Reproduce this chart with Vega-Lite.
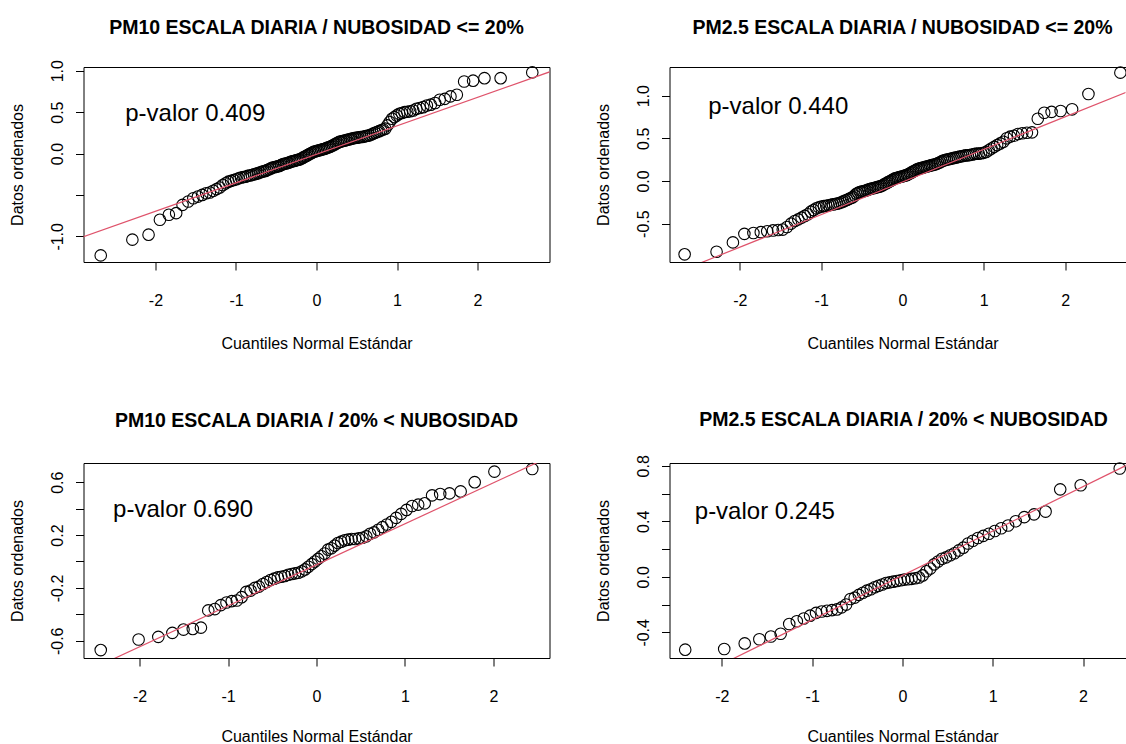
{
  "$schema": "https://vega.github.io/schema/vega-lite/v6.json",
  "background": "white",
  "padding": {"left": 8.5, "top": 17, "right": 0, "bottom": 0},
  "columns": 2,
  "spacing": {"row": 201, "column": 120},
  "bounds": "flush",
  "datasets": {
    "d1": [
      {"x":-2.68,"y":-1.23},{"x":-2.287,"y":-1.04},{"x":-2.086,"y":-0.98},{"x":-1.945,"y":-0.8},{"x":-1.834,"y":-0.74},{"x":-1.743,"y":-0.72},{"x":-1.664,"y":-0.62},{"x":-1.593,"y":-0.58},{"x":-1.53,"y":-0.54},{"x":-1.473,"y":-0.52},
      {"x":-1.42,"y":-0.5},{"x":-1.371,"y":-0.48},{"x":-1.325,"y":-0.47},{"x":-1.282,"y":-0.45},{"x":-1.241,"y":-0.43},{"x":-1.202,"y":-0.41},{"x":-1.164,"y":-0.38},{"x":-1.128,"y":-0.36},{"x":-1.094,"y":-0.34},{"x":-1.06,"y":-0.33},
      {"x":-1.028,"y":-0.32},{"x":-0.997,"y":-0.31},{"x":-0.967,"y":-0.3},{"x":-0.938,"y":-0.29},{"x":-0.909,"y":-0.285},{"x":-0.881,"y":-0.28},{"x":-0.855,"y":-0.27},{"x":-0.828,"y":-0.265},{"x":-0.803,"y":-0.26},{"x":-0.777,"y":-0.25},
      {"x":-0.752,"y":-0.245},{"x":-0.728,"y":-0.24},{"x":-0.704,"y":-0.23},{"x":-0.68,"y":-0.22},{"x":-0.657,"y":-0.215},{"x":-0.634,"y":-0.21},{"x":-0.612,"y":-0.2},{"x":-0.589,"y":-0.19},{"x":-0.567,"y":-0.18},{"x":-0.546,"y":-0.17},
      {"x":-0.524,"y":-0.165},{"x":-0.503,"y":-0.16},{"x":-0.482,"y":-0.155},{"x":-0.462,"y":-0.15},{"x":-0.441,"y":-0.14},{"x":-0.421,"y":-0.13},{"x":-0.401,"y":-0.125},{"x":-0.38,"y":-0.12},{"x":-0.36,"y":-0.115},{"x":-0.341,"y":-0.11},
      {"x":-0.321,"y":-0.1},{"x":-0.301,"y":-0.095},{"x":-0.282,"y":-0.09},{"x":-0.263,"y":-0.085},{"x":-0.244,"y":-0.08},{"x":-0.225,"y":-0.075},{"x":-0.206,"y":-0.07},{"x":-0.187,"y":-0.06},{"x":-0.168,"y":-0.05},{"x":-0.149,"y":-0.04},
      {"x":-0.13,"y":-0.03},{"x":-0.112,"y":-0.02},{"x":-0.093,"y":-0.01},{"x":-0.074,"y":0.0},{"x":-0.056,"y":0.01},{"x":-0.037,"y":0.02},{"x":-0.019,"y":0.025},{"x":0,"y":0.03},
      {"x":0.019,"y":0.035},{"x":0.037,"y":0.04},{"x":0.056,"y":0.045},{"x":0.074,"y":0.05},{"x":0.093,"y":0.055},{"x":0.112,"y":0.06},{"x":0.13,"y":0.07},{"x":0.149,"y":0.075},{"x":0.168,"y":0.08},{"x":0.187,"y":0.09},
      {"x":0.206,"y":0.1},{"x":0.225,"y":0.11},{"x":0.244,"y":0.12},{"x":0.263,"y":0.13},{"x":0.282,"y":0.14},{"x":0.301,"y":0.145},{"x":0.321,"y":0.15},{"x":0.341,"y":0.155},{"x":0.36,"y":0.16},{"x":0.38,"y":0.165},
      {"x":0.401,"y":0.17},{"x":0.421,"y":0.175},{"x":0.441,"y":0.18},{"x":0.462,"y":0.185},{"x":0.482,"y":0.19},{"x":0.503,"y":0.19},{"x":0.524,"y":0.195},{"x":0.546,"y":0.2},{"x":0.567,"y":0.2},{"x":0.589,"y":0.205},
      {"x":0.612,"y":0.21},{"x":0.634,"y":0.215},{"x":0.657,"y":0.22},{"x":0.68,"y":0.23},{"x":0.704,"y":0.24},{"x":0.728,"y":0.25},{"x":0.752,"y":0.26},{"x":0.777,"y":0.27},{"x":0.803,"y":0.28},{"x":0.828,"y":0.29},
      {"x":0.855,"y":0.3},{"x":0.881,"y":0.34},{"x":0.909,"y":0.38},{"x":0.938,"y":0.42},{"x":0.967,"y":0.44},{"x":0.997,"y":0.46},{"x":1.028,"y":0.48},{"x":1.06,"y":0.49},{"x":1.094,"y":0.5},{"x":1.128,"y":0.505},
      {"x":1.164,"y":0.51},{"x":1.202,"y":0.52},{"x":1.241,"y":0.54},{"x":1.282,"y":0.55},{"x":1.325,"y":0.56},{"x":1.371,"y":0.58},{"x":1.42,"y":0.59},{"x":1.473,"y":0.61},{"x":1.53,"y":0.65},{"x":1.593,"y":0.66},
      {"x":1.664,"y":0.69},{"x":1.743,"y":0.71},{"x":1.834,"y":0.87},{"x":1.945,"y":0.88},{"x":2.086,"y":0.91},{"x":2.287,"y":0.91},{"x":2.68,"y":0.98}
    ],
    "d2": [
      {"x":-2.68,"y":-0.86},{"x":-2.287,"y":-0.83},{"x":-2.086,"y":-0.72},{"x":-1.945,"y":-0.62},{"x":-1.834,"y":-0.61},{"x":-1.743,"y":-0.6},{"x":-1.664,"y":-0.59},{"x":-1.593,"y":-0.58},{"x":-1.53,"y":-0.575},{"x":-1.473,"y":-0.57},
      {"x":-1.42,"y":-0.54},{"x":-1.371,"y":-0.5},{"x":-1.325,"y":-0.47},{"x":-1.282,"y":-0.45},{"x":-1.241,"y":-0.43},{"x":-1.202,"y":-0.41},{"x":-1.164,"y":-0.39},{"x":-1.128,"y":-0.36},{"x":-1.094,"y":-0.34},{"x":-1.06,"y":-0.32},
      {"x":-1.028,"y":-0.31},{"x":-0.997,"y":-0.3},{"x":-0.967,"y":-0.295},{"x":-0.938,"y":-0.29},{"x":-0.909,"y":-0.285},{"x":-0.881,"y":-0.28},{"x":-0.855,"y":-0.275},{"x":-0.828,"y":-0.27},{"x":-0.803,"y":-0.265},{"x":-0.777,"y":-0.26},
      {"x":-0.752,"y":-0.25},{"x":-0.728,"y":-0.24},{"x":-0.704,"y":-0.23},{"x":-0.68,"y":-0.22},{"x":-0.657,"y":-0.21},{"x":-0.634,"y":-0.2},{"x":-0.612,"y":-0.19},{"x":-0.589,"y":-0.17},{"x":-0.567,"y":-0.15},{"x":-0.546,"y":-0.14},
      {"x":-0.524,"y":-0.13},{"x":-0.503,"y":-0.125},{"x":-0.482,"y":-0.12},{"x":-0.462,"y":-0.115},{"x":-0.441,"y":-0.11},{"x":-0.421,"y":-0.1},{"x":-0.401,"y":-0.095},{"x":-0.38,"y":-0.09},{"x":-0.36,"y":-0.085},{"x":-0.341,"y":-0.08},
      {"x":-0.321,"y":-0.075},{"x":-0.301,"y":-0.07},{"x":-0.282,"y":-0.065},{"x":-0.263,"y":-0.06},{"x":-0.244,"y":-0.05},{"x":-0.225,"y":-0.04},{"x":-0.206,"y":-0.03},{"x":-0.187,"y":-0.02},{"x":-0.168,"y":-0.01},{"x":-0.149,"y":0.0},
      {"x":-0.13,"y":0.01},{"x":-0.112,"y":0.02},{"x":-0.093,"y":0.03},{"x":-0.074,"y":0.035},{"x":-0.056,"y":0.04},{"x":-0.037,"y":0.045},{"x":-0.019,"y":0.05},{"x":0,"y":0.055},
      {"x":0.019,"y":0.06},{"x":0.037,"y":0.065},{"x":0.056,"y":0.07},{"x":0.074,"y":0.08},{"x":0.093,"y":0.09},{"x":0.112,"y":0.1},{"x":0.13,"y":0.11},{"x":0.149,"y":0.12},{"x":0.168,"y":0.13},{"x":0.187,"y":0.14},
      {"x":0.206,"y":0.145},{"x":0.225,"y":0.15},{"x":0.244,"y":0.155},{"x":0.263,"y":0.16},{"x":0.282,"y":0.165},{"x":0.301,"y":0.17},{"x":0.321,"y":0.175},{"x":0.341,"y":0.18},{"x":0.36,"y":0.185},{"x":0.38,"y":0.19},
      {"x":0.401,"y":0.195},{"x":0.421,"y":0.2},{"x":0.441,"y":0.21},{"x":0.462,"y":0.22},{"x":0.482,"y":0.23},{"x":0.503,"y":0.24},{"x":0.524,"y":0.245},{"x":0.546,"y":0.25},{"x":0.567,"y":0.255},{"x":0.589,"y":0.26},
      {"x":0.612,"y":0.265},{"x":0.634,"y":0.27},{"x":0.657,"y":0.275},{"x":0.68,"y":0.28},{"x":0.704,"y":0.285},{"x":0.728,"y":0.29},{"x":0.752,"y":0.295},{"x":0.777,"y":0.3},{"x":0.803,"y":0.3},{"x":0.828,"y":0.305},
      {"x":0.855,"y":0.31},{"x":0.881,"y":0.315},{"x":0.909,"y":0.32},{"x":0.938,"y":0.32},{"x":0.967,"y":0.325},{"x":0.997,"y":0.33},{"x":1.028,"y":0.34},{"x":1.06,"y":0.36},{"x":1.094,"y":0.38},{"x":1.128,"y":0.4},
      {"x":1.164,"y":0.42},{"x":1.202,"y":0.44},{"x":1.241,"y":0.46},{"x":1.282,"y":0.5},{"x":1.325,"y":0.52},{"x":1.371,"y":0.53},{"x":1.42,"y":0.55},{"x":1.473,"y":0.56},{"x":1.53,"y":0.565},{"x":1.593,"y":0.57},
      {"x":1.664,"y":0.73},{"x":1.743,"y":0.8},{"x":1.834,"y":0.81},{"x":1.945,"y":0.82},{"x":2.086,"y":0.84},{"x":2.287,"y":1.02},{"x":2.68,"y":1.27}
    ],
    "d3": [
      {"x":-2.44,"y":-0.67},{"x":-2.012,"y":-0.59},{"x":-1.789,"y":-0.57},{"x":-1.63,"y":-0.54},{"x":-1.504,"y":-0.515},{"x":-1.399,"y":-0.51},{"x":-1.307,"y":-0.5},{"x":-1.224,"y":-0.37},{"x":-1.15,"y":-0.36},{"x":-1.082,"y":-0.33},
      {"x":-1.018,"y":-0.31},{"x":-0.958,"y":-0.3},{"x":-0.901,"y":-0.295},{"x":-0.847,"y":-0.27},{"x":-0.795,"y":-0.23},{"x":-0.745,"y":-0.22},{"x":-0.698,"y":-0.2},{"x":-0.651,"y":-0.19},{"x":-0.606,"y":-0.17},{"x":-0.563,"y":-0.155},
      {"x":-0.52,"y":-0.14},{"x":-0.478,"y":-0.13},{"x":-0.437,"y":-0.12},{"x":-0.397,"y":-0.115},{"x":-0.358,"y":-0.11},{"x":-0.319,"y":-0.1},{"x":-0.28,"y":-0.095},{"x":-0.242,"y":-0.09},{"x":-0.205,"y":-0.085},{"x":-0.167,"y":-0.075},
      {"x":-0.13,"y":-0.06},{"x":-0.092,"y":-0.04},{"x":-0.055,"y":-0.02},{"x":-0.018,"y":0.0},
      {"x":0.018,"y":0.02},{"x":0.055,"y":0.04},{"x":0.092,"y":0.06},{"x":0.13,"y":0.09},{"x":0.167,"y":0.1},{"x":0.205,"y":0.12},{"x":0.242,"y":0.14},{"x":0.28,"y":0.15},{"x":0.319,"y":0.16},{"x":0.358,"y":0.165},
      {"x":0.397,"y":0.17},{"x":0.437,"y":0.17},{"x":0.478,"y":0.175},{"x":0.52,"y":0.18},{"x":0.563,"y":0.19},{"x":0.606,"y":0.21},{"x":0.651,"y":0.22},{"x":0.698,"y":0.24},{"x":0.745,"y":0.26},{"x":0.795,"y":0.28},
      {"x":0.847,"y":0.3},{"x":0.901,"y":0.33},{"x":0.958,"y":0.36},{"x":1.018,"y":0.39},{"x":1.082,"y":0.42},{"x":1.15,"y":0.43},{"x":1.224,"y":0.44},{"x":1.307,"y":0.5},{"x":1.399,"y":0.51},{"x":1.504,"y":0.515},
      {"x":1.63,"y":0.53},{"x":1.789,"y":0.6},{"x":2.012,"y":0.68},{"x":2.44,"y":0.7}
    ],
    "d4": [
      {"x":-2.406,"y":-0.525},{"x":-1.974,"y":-0.52},{"x":-1.747,"y":-0.48},{"x":-1.585,"y":-0.45},{"x":-1.457,"y":-0.43},{"x":-1.349,"y":-0.41},{"x":-1.254,"y":-0.34},{"x":-1.17,"y":-0.32},{"x":-1.093,"y":-0.3},{"x":-1.023,"y":-0.28},
      {"x":-0.957,"y":-0.26},{"x":-0.895,"y":-0.25},{"x":-0.836,"y":-0.245},{"x":-0.78,"y":-0.24},{"x":-0.726,"y":-0.235},{"x":-0.674,"y":-0.22},{"x":-0.624,"y":-0.2},{"x":-0.576,"y":-0.16},{"x":-0.529,"y":-0.15},{"x":-0.483,"y":-0.13},
      {"x":-0.438,"y":-0.115},{"x":-0.394,"y":-0.1},{"x":-0.351,"y":-0.09},{"x":-0.308,"y":-0.075},{"x":-0.266,"y":-0.065},{"x":-0.224,"y":-0.055},{"x":-0.183,"y":-0.045},{"x":-0.142,"y":-0.04},{"x":-0.101,"y":-0.035},{"x":-0.061,"y":-0.03},
      {"x":-0.02,"y":-0.025},{"x":0.02,"y":-0.02},{"x":0.061,"y":-0.018},{"x":0.101,"y":-0.015},{"x":0.142,"y":-0.01},{"x":0.183,"y":-0.005},{"x":0.224,"y":0.01},{"x":0.266,"y":0.04},{"x":0.308,"y":0.06},{"x":0.351,"y":0.09},
      {"x":0.394,"y":0.11},{"x":0.438,"y":0.13},{"x":0.483,"y":0.14},{"x":0.529,"y":0.155},{"x":0.576,"y":0.17},{"x":0.624,"y":0.19},{"x":0.674,"y":0.21},{"x":0.726,"y":0.24},{"x":0.78,"y":0.26},{"x":0.836,"y":0.28},
      {"x":0.895,"y":0.295},{"x":0.957,"y":0.31},{"x":1.023,"y":0.33},{"x":1.093,"y":0.35},{"x":1.17,"y":0.37},{"x":1.254,"y":0.4},{"x":1.349,"y":0.43},{"x":1.457,"y":0.45},{"x":1.585,"y":0.47},{"x":1.747,"y":0.63},
      {"x":1.974,"y":0.66},{"x":2.406,"y":0.78}
    ],
    "l1": [{"x":-3,"y":-1.042,"x2":3,"y2":1.022}],
    "l2": [{"x":-3,"y":-1.158,"x2":3,"y2":1.134}],
    "l3": [{"x":-3,"y":-0.955,"x2":3,"y2":0.905}],
    "l4": [{"x":-3,"y":-0.95,"x2":3,"y2":0.97}],
    "t1": [{"x":-2.376,"y":0.39,"label":"p-valor 0.409"}],
    "t2": [{"x":-2.39,"y":0.78,"label":"p-valor 0.440"}],
    "t3": [{"x":-2.3,"y":0.333,"label":"p-valor 0.690"}],
    "t4": [{"x":-2.3,"y":0.42,"label":"p-valor 0.245"}]
  },
  "concat": [
    {
      "width": 466, "height": 195,
      "title": {"text": "PM10 ESCALA DIARIA / NUBOSIDAD <= 20%", "offset": 21.5},
      "resolve": {"axis": {"x": "independent", "y": "independent"}},
      "layer": [
        {"data": {"name": "d1"},
         "mark": {"type": "point", "shape": "circle", "filled": false, "stroke": "black", "strokeWidth": 1.1, "size": 133, "opacity": 1},
         "encoding": {
           "x": {"field": "x", "type": "quantitative", "scale": {"domain": [-2.894, 2.894], "nice": false, "zero": false},
                 "axis": {"values": [-2, -1, 0, 1, 2], "title": "Cuantiles Normal Estándar", "labelExpr": "replace(format(datum.value, 'd'), '−', '-')"}},
           "y": {"field": "y", "type": "quantitative", "scale": {"domain": [-1.31, 1.045], "nice": false, "zero": false},
                 "axis": {"values": [-1, -0.5, 0, 0.5, 1], "title": "Datos ordenados", "labelExpr": "datum.value == -0.5 ? '' : replace(format(datum.value, '.1f'), '−', '-')"}}
         }},
        {"data": {"name": "l1"},
         "mark": {"type": "rule", "color": "#DF536B", "strokeWidth": 1.2, "clip": true},
         "encoding": {
           "x": {"field": "x", "type": "quantitative", "scale": {"domain": [-2.894, 2.894], "nice": false, "zero": false}, "axis": null},
           "y": {"field": "y", "type": "quantitative", "scale": {"domain": [-1.31, 1.045], "nice": false, "zero": false}, "axis": null},
           "x2": {"field": "x2"}, "y2": {"field": "y2"}
         }},
        {"data": {"name": "t1"},
         "mark": {"type": "text", "align": "left", "baseline": "alphabetic", "fontSize": 24, "font": "Liberation Sans", "color": "black"},
         "encoding": {
           "x": {"field": "x", "type": "quantitative", "scale": {"domain": [-2.894, 2.894], "nice": false, "zero": false}, "axis": null},
           "y": {"field": "y", "type": "quantitative", "scale": {"domain": [-1.31, 1.045], "nice": false, "zero": false}, "axis": null},
           "text": {"field": "label"}
         }}
      ]
    },
    {
      "width": 456, "height": 195,
      "view": {"stroke": null},
      "title": {"text": "PM2.5 ESCALA DIARIA / NUBOSIDAD <= 20%", "offset": 26.5, "dx": 5},
      "resolve": {"axis": {"x": "independent", "y": "independent"}},
      "layer": [
        {"data": {"name": "d2"},
         "mark": {"type": "point", "shape": "circle", "filled": false, "stroke": "black", "strokeWidth": 1.1, "size": 133, "opacity": 1},
         "encoding": {
           "x": {"field": "x", "type": "quantitative", "scale": {"domain": [-2.866, 2.743], "nice": false, "zero": false},
                 "axis": {"values": [-2, -1, 0, 1, 2], "domain": true, "title": "Cuantiles Normal Estándar", "labelExpr": "replace(format(datum.value, 'd'), '−', '-')"}},
           "y": {"field": "y", "type": "quantitative", "scale": {"domain": [-0.95, 1.336], "nice": false, "zero": false},
                 "axis": {"values": [-0.5, 0, 0.5, 1], "domain": true, "title": "Datos ordenados", "labelExpr": "replace(format(datum.value, '.1f'), '−', '-')"}}
         }},
        {"data": {"name": "l2"},
         "mark": {"type": "rule", "color": "#DF536B", "strokeWidth": 1.2, "clip": true},
         "encoding": {
           "x": {"field": "x", "type": "quantitative", "scale": {"domain": [-2.866, 2.743], "nice": false, "zero": false}, "axis": null},
           "y": {"field": "y", "type": "quantitative", "scale": {"domain": [-0.95, 1.336], "nice": false, "zero": false}, "axis": null},
           "x2": {"field": "x2"}, "y2": {"field": "y2"}
         }},
        {"data": {"name": "t2"},
         "mark": {"type": "text", "align": "left", "baseline": "alphabetic", "fontSize": 24, "font": "Liberation Sans", "color": "black"},
         "encoding": {
           "x": {"field": "x", "type": "quantitative", "scale": {"domain": [-2.866, 2.743], "nice": false, "zero": false},
                 "axis": {"orient": "top", "labels": false, "ticks": false, "domain": true, "title": null}},
           "y": {"field": "y", "type": "quantitative", "scale": {"domain": [-0.95, 1.336], "nice": false, "zero": false}, "axis": null},
           "text": {"field": "label"}
         }}
      ]
    },
    {
      "width": 466, "height": 195,
      "title": {"text": "PM10 ESCALA DIARIA / 20% < NUBOSIDAD", "offset": 29},
      "resolve": {"axis": {"x": "independent", "y": "independent"}},
      "layer": [
        {"data": {"name": "d3"},
         "mark": {"type": "point", "shape": "circle", "filled": false, "stroke": "black", "strokeWidth": 1.1, "size": 133, "opacity": 1},
         "encoding": {
           "x": {"field": "x", "type": "quantitative", "scale": {"domain": [-2.635, 2.635], "nice": false, "zero": false},
                 "axis": {"values": [-2, -1, 0, 1, 2], "title": "Cuantiles Normal Estándar", "titleY": 83, "labelExpr": "replace(format(datum.value, 'd'), '−', '-')"}},
           "y": {"field": "y", "type": "quantitative", "scale": {"domain": [-0.73, 0.745], "nice": false, "zero": false},
                 "axis": {"values": [-0.6, -0.4, -0.2, 0, 0.2, 0.4, 0.6], "title": "Datos ordenados", "labelExpr": "(abs(datum.value) > 0.55 || (abs(datum.value) > 0.15 && abs(datum.value) < 0.25)) ? replace(format(datum.value, '.1f'), '−', '-') : ''"}}
         }},
        {"data": {"name": "l3"},
         "mark": {"type": "rule", "color": "#DF536B", "strokeWidth": 1.2, "clip": true},
         "encoding": {
           "x": {"field": "x", "type": "quantitative", "scale": {"domain": [-2.635, 2.635], "nice": false, "zero": false}, "axis": null},
           "y": {"field": "y", "type": "quantitative", "scale": {"domain": [-0.73, 0.745], "nice": false, "zero": false}, "axis": null},
           "x2": {"field": "x2"}, "y2": {"field": "y2"}
         }},
        {"data": {"name": "t3"},
         "mark": {"type": "text", "align": "left", "baseline": "alphabetic", "fontSize": 24, "font": "Liberation Sans", "color": "black"},
         "encoding": {
           "x": {"field": "x", "type": "quantitative", "scale": {"domain": [-2.635, 2.635], "nice": false, "zero": false}, "axis": null},
           "y": {"field": "y", "type": "quantitative", "scale": {"domain": [-0.73, 0.745], "nice": false, "zero": false}, "axis": null},
           "text": {"field": "label"}
         }}
      ]
    },
    {
      "width": 456, "height": 195,
      "view": {"stroke": null},
      "title": {"text": "PM2.5 ESCALA DIARIA / 20% < NUBOSIDAD", "offset": 24.5, "dx": 6},
      "resolve": {"axis": {"x": "independent", "y": "independent"}},
      "layer": [
        {"data": {"name": "d4"},
         "mark": {"type": "point", "shape": "circle", "filled": false, "stroke": "black", "strokeWidth": 1.1, "size": 133, "opacity": 1},
         "encoding": {
           "x": {"field": "x", "type": "quantitative", "scale": {"domain": [-2.58, 2.47], "nice": false, "zero": false},
                 "axis": {"values": [-2, -1, 0, 1, 2], "domain": true, "title": "Cuantiles Normal Estándar", "titleY": 83, "labelExpr": "replace(format(datum.value, 'd'), '−', '-')"}},
           "y": {"field": "y", "type": "quantitative", "scale": {"domain": [-0.585, 0.82], "nice": false, "zero": false},
                 "axis": {"values": [-0.4, -0.2, 0, 0.2, 0.4, 0.6, 0.8], "domain": true, "title": "Datos ordenados", "labelExpr": "(abs(datum.value) < 0.05 || (abs(datum.value) > 0.35 && abs(datum.value) < 0.45) || datum.value > 0.75) ? replace(format(datum.value, '.1f'), '−', '-') : ''"}}
         }},
        {"data": {"name": "l4"},
         "mark": {"type": "rule", "color": "#DF536B", "strokeWidth": 1.2, "clip": true},
         "encoding": {
           "x": {"field": "x", "type": "quantitative", "scale": {"domain": [-2.58, 2.47], "nice": false, "zero": false}, "axis": null},
           "y": {"field": "y", "type": "quantitative", "scale": {"domain": [-0.585, 0.82], "nice": false, "zero": false}, "axis": null},
           "x2": {"field": "x2"}, "y2": {"field": "y2"}
         }},
        {"data": {"name": "t4"},
         "mark": {"type": "text", "align": "left", "baseline": "alphabetic", "fontSize": 24, "font": "Liberation Sans", "color": "black"},
         "encoding": {
           "x": {"field": "x", "type": "quantitative", "scale": {"domain": [-2.58, 2.47], "nice": false, "zero": false},
                 "axis": {"orient": "top", "labels": false, "ticks": false, "domain": true, "title": null}},
           "y": {"field": "y", "type": "quantitative", "scale": {"domain": [-0.585, 0.82], "nice": false, "zero": false}, "axis": null},
           "text": {"field": "label"}
         }}
      ]
    }
  ],
  "config": {
    "font": "Liberation Sans",
    "view": {"stroke": "black", "strokeWidth": 1},
    "axis": {"grid": false, "domain": false, "domainColor": "black", "domainWidth": 1, "tickColor": "black", "tickWidth": 1, "tickSize": 8,
             "labelColor": "black", "labelFont": "Liberation Sans", "labelFontSize": 16, "labelFlush": false, "labelOverlap": false,
             "titleColor": "black", "titleFont": "Liberation Sans", "titleFontSize": 16, "titleFontWeight": "normal"},
    "axisX": {"labelAngle": 0, "labelBaseline": "alphabetic", "labelPadding": 35, "titleBaseline": "alphabetic", "titleY": 86, "titleX": 233},
    "axisY": {"labelAngle": 270, "labelAlign": "center", "labelBaseline": "alphabetic", "labelPadding": 13, "titleAngle": 270, "titleBaseline": "alphabetic", "titleAlign": "center", "titleX": -60.6},
    "title": {"font": "Liberation Sans", "fontSize": 19.5, "fontWeight": "bold", "color": "black", "anchor": "middle", "frame": "group", "baseline": "alphabetic"}
  }
}
